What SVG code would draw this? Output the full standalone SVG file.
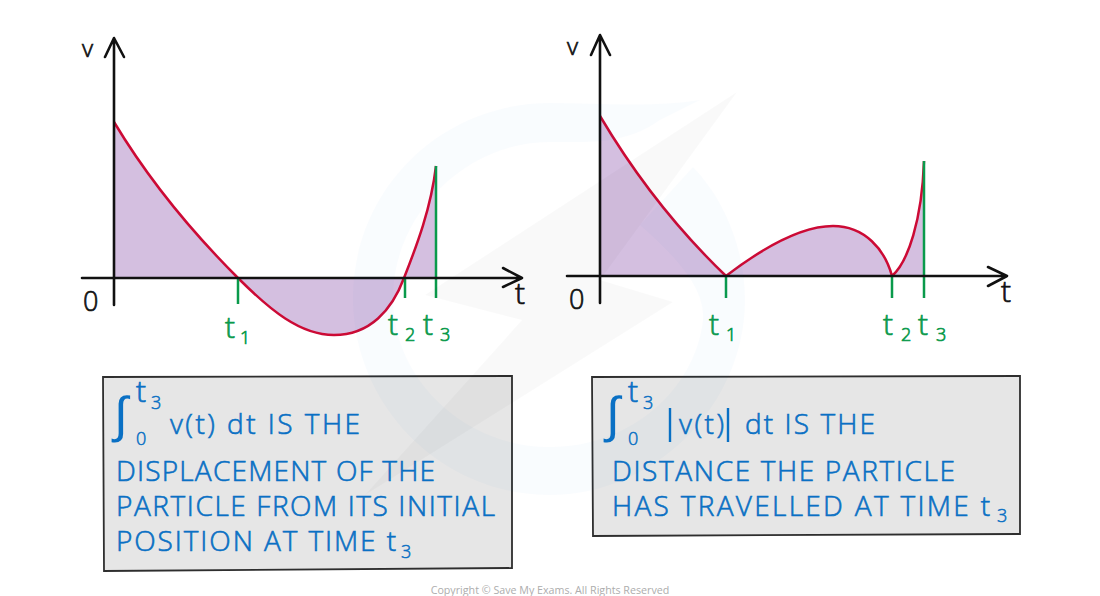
<svg xmlns="http://www.w3.org/2000/svg" width="1100" height="596" viewBox="0 0 1100 596">
<style>
text{font-family:"Open Sans","Liberation Sans",sans-serif;font-weight:300}
.ax{fill:none;stroke:#111;stroke-width:2.6;stroke-linecap:round;stroke-linejoin:round}
.red{fill:none;stroke:#cc0a35;stroke-width:2.5}
.area{fill:#d4bfe0}
.gr{stroke:#0a9a4b;stroke-width:2.5;fill:none}
.box{fill:#e6e6e6;stroke:#2e2e2e;stroke-width:1.8}
.k{fill:#111;stroke:#111;stroke-width:.7}
.g{fill:#0a9a4b;stroke:#0a9a4b;stroke-width:.7;font-size:30px}
.gs{fill:#0a9a4b;stroke:#0a9a4b;stroke-width:.7;font-size:18px}
.b{fill:#0a70c4;stroke:#0a70c4;stroke-width:.6;font-size:28px}
.bs{fill:#0a70c4;stroke:#0a70c4;stroke-width:.5;font-size:18px}
.int{font-family:"Liberation Sans",sans-serif;font-size:50px;font-weight:400;fill:#0a70c4}
</style>
<g id="left-graph">
<path class="area" d="M114,122C150,182 195,235 238,278C270,310 300,335 334,335C370,335 392,310 404,278C417,245 431,208 436,166V278H114Z"/>
<path class="red" d="M114,122C150,182 195,235 238,278C270,310 300,335 334,335C370,335 392,310 404,278C417,245 431,208 436,166"/>
<path class="gr" d="M238,278V304M405,278V298M436,166V298"/>
<path class="ax" d="M114,38V305M105,57L114,38L124,57M82,278H522M503,268L522,278L503,287"/>
<text class="k" x="82" y="57" font-size="24">v</text>
<text class="k" x="83" y="311" font-size="27">0</text>
<text class="k" x="515" y="304" font-size="30">t</text>
<text class="g" x="225" y="338">t</text><text class="gs" x="240" y="344">1</text>
<text class="g" x="388" y="335">t</text><text class="gs" x="405" y="341">2</text>
<text class="g" x="423" y="335">t</text><text class="gs" x="440" y="341">3</text>
</g>
<g id="right-graph">
<path class="area" d="M600,116C635,175 680,232 726,276C760,250 800,226 833,226C865,226 885,250 892,276C908,262 922,220 924,161V276H600Z"/>
<path class="red" d="M600,116C635,175 680,232 726,276C760,250 800,226 833,226C865,226 885,250 892,276C908,262 922,220 924,161"/>
<path class="gr" d="M726,276V298M892,276V298M924,161V298"/>
<path class="ax" d="M600,35V303M591,55L600,35L610,55M567,276H1007M988,267L1007,276L988,286"/>
<text class="k" x="567" y="55" font-size="24">v</text>
<text class="k" x="569" y="309" font-size="27">0</text>
<text class="k" x="1001" y="302" font-size="30">t</text>
<text class="g" x="709" y="335">t</text><text class="gs" x="726" y="341">1</text>
<text class="g" x="883" y="335">t</text><text class="gs" x="901" y="341">2</text>
<text class="g" x="918" y="335">t</text><text class="gs" x="936" y="341">3</text>
</g>
<g id="left-box">
<path class="box" d="M103,377L512,376L512,568L104,571Z"/>
<text class="int" x="114" y="432">∫</text>
<text class="g" style="fill:#0a70c4;stroke:#0a70c4" x="136" y="402">t</text><text class="bs" x="151" y="409">3</text><text class="bs" x="136" y="445">0</text>
<text class="b" x="170" y="434" textLength="190" lengthAdjust="spacing">v(t) dt IS THE</text>
<text class="b" x="116" y="481" textLength="319" lengthAdjust="spacing">DISPLACEMENT OF THE</text>
<text class="b" x="116" y="516" textLength="379" lengthAdjust="spacing">PARTICLE FROM ITS INITIAL</text>
<text class="b" x="116" y="551" textLength="280" lengthAdjust="spacing">POSITION AT TIME t</text>
<text class="bs" x="401" y="558">3</text>
</g>
<g id="right-box">
<path class="box" d="M592,377L1020,376L1020,534L593,536Z"/>
<text class="int" x="606" y="432">∫</text>
<text class="g" style="fill:#0a70c4;stroke:#0a70c4" x="628" y="402">t</text><text class="bs" x="643" y="409">3</text><text class="bs" x="628" y="445">0</text>
<path d="M670,408V442M728,408V442" fill="none" stroke="#0a70c4" stroke-width="2.4"/>
<text class="b" x="679" y="434" textLength="45" lengthAdjust="spacing">v(t)</text>
<text class="b" x="745" y="434" textLength="130" lengthAdjust="spacing">dt IS THE</text>
<text class="b" x="612" y="481" textLength="343" lengthAdjust="spacing">DISTANCE THE PARTICLE</text>
<text class="b" x="612" y="516" textLength="378" lengthAdjust="spacing">HAS TRAVELLED AT TIME t</text>
<text class="bs" x="997" y="522">3</text>
</g>
<g id="watermark">
<path fill="#0088cc" opacity=".022" fill-rule="evenodd" d="M700,100C650,108 600,103 550,103C440,103 353,190 353,298C353,405 440,495 550,495C655,495 745,405 745,300C745,250 725,200 693,167L640,225C680,260 705,290 703,320C695,390 630,447 550,447C465,447 393,380 393,298C393,215 465,142 550,142C590,142 625,145 660,120Z"/>
<path fill="#000" opacity=".024" d="M737,92L425,295L522,320L365,495L673,302L600,280Z"/>
</g>
<text id="copyright" x="550" y="594" text-anchor="middle" font-size="10.7" style="font-weight:400" fill="#adadad">Copyright © Save My Exams. All Rights Reserved</text>
</svg>
